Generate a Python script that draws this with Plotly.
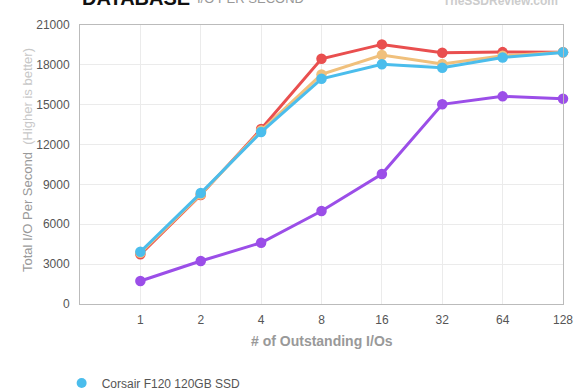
import plotly.graph_objects as go

categories = ["1", "2", "4", "8", "16", "32", "64", "128"]
red_vals = [3740, 8200, 13170, 18460, 19540, 18910, 18960, 18950]
orange_vals = [3850, 8250, 13050, 17280, 18740, 18060, 18680, 18950]
blue_vals = [3935, 8350, 12940, 16950, 18040, 17780, 18560, 18940]
purple_vals = [1730, 3235, 4610, 7000, 9780, 15030, 15630, 15450]
y_ticks = [0, 3000, 6000, 9000, 12000, 15000, 18000, 21000]

FONT = "Liberation Sans, Arial, Helvetica, sans-serif"

fig = go.Figure()

def add(vals, color, name):
    fig.add_trace(go.Scatter(
        x=categories, y=vals, mode="lines+markers", name=name,
        line=dict(color=color, width=3),
        marker=dict(color=color, size=10.5),
        showlegend=False, cliponaxis=False,
    ))

add(purple_vals, "#9B4EE8", "Series 4")
add(red_vals, "#E94F4F", "Series 2")
add(orange_vals, "#F0C07C", "Series 3")
add(blue_vals, "#4BBDEC", "Corsair F120 120GB SSD")

# legend-only entry (marker without line, as in the reference legend)
fig.add_trace(go.Scatter(
    x=[None], y=[None], mode="markers", name="Corsair F120 120GB SSD",
    marker=dict(color="#4BBDEC", size=10), showlegend=True,
))

fig.update_layout(
    width=580, height=390,
    margin=dict(l=80, r=17, t=25, b=86, autoexpand=False),
    paper_bgcolor="white", plot_bgcolor="white",
    font=dict(family=FONT, color="#555"),
    legend=dict(orientation="h", x=-0.038, xanchor="left",
                y=(304 - 383) / 279, yanchor="middle",
                font=dict(size=12, color="#555")),
    annotations=[
        dict(text="<b>DATABASE</b>", xref="paper", yref="paper", x=0, y=1.050,
             xanchor="left", yanchor="bottom", showarrow=False,
             font=dict(size=20, color="#111", family=FONT)),
        dict(text="I/O PER SECOND", xref="paper", yref="paper", x=0.238, y=1.061,
             xanchor="left", yanchor="bottom", showarrow=False,
             font=dict(size=13, color="#999", family=FONT)),
        dict(text="<b>TheSSDReview.com</b>", xref="paper", yref="paper", x=0.994, y=1.054,
             xanchor="right", yanchor="bottom", showarrow=False,
             font=dict(size=12, color="#ccc", family=FONT)),
        dict(text="Total I/O Per Second  <span style='color:#c8c8c8'>(Higher is better)</span>",
             xref="paper", yref="paper", x=(27 - 80) / 483, y=(304 - 160) / 279,
             xanchor="center", yanchor="middle", textangle=-90, showarrow=False,
             font=dict(size=13, color="#999", family=FONT)),
        dict(text="<b># of Outstanding I/Os</b>", xref="paper", yref="paper", x=0.5,
             y=(304 - 341) / 279, xanchor="center", yanchor="middle", showarrow=False,
             font=dict(size=14, color="#999", family=FONT)),
    ],
)

fig.update_xaxes(
    type="category", range=[-1, 7], automargin=False,
    showgrid=True, gridcolor="#ebebeb", gridwidth=1,
    showline=True, linecolor="#bbb", linewidth=1, mirror=True,
    zeroline=False, ticks="", ticklabelstandoff=5,
    tickfont=dict(size=12, color="#555"),
)
fig.update_yaxes(
    range=[0, 21000], tickvals=y_ticks, ticktext=[str(v) for v in y_ticks],
    automargin=False,
    showgrid=True, gridcolor="#ebebeb", gridwidth=1,
    showline=True, linecolor="#bbb", linewidth=1, mirror=True,
    zeroline=False, ticks="", ticklabelstandoff=7,
    tickfont=dict(size=12, color="#555"),
)

fig.write_html("out.html", config={"displayModeBar": False},
               post_script="document.body.style.margin='0';document.body.style.overflow='hidden';")
